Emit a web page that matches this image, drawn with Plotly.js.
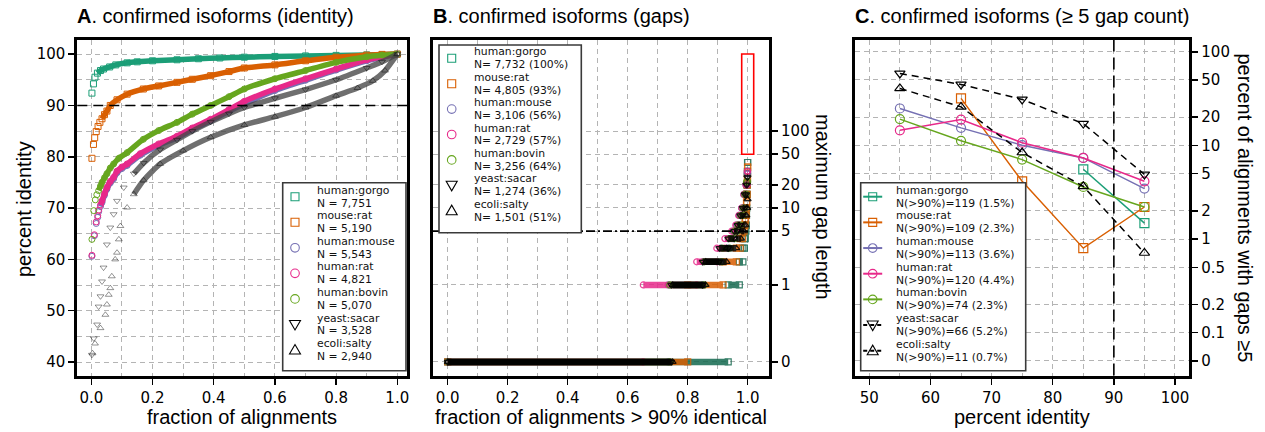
<!DOCTYPE html>
<html>
<head>
<meta charset="utf-8">
<script src="https://cdn.plot.ly/plotly-3.0.1.min.js"></script>
<style>html,body{margin:0;padding:0;background:#fff}#chart{width:1265px;height:432px}</style>
</head>
<body>
<div id="chart"></div>
<script>
// ================= DATA =================
const seriesNames = ['human:gorgo','mouse:rat','human:mouse','human:rat','human:bovin','yeast:sacar','ecoli:salty'];
const aCounts = ['N = 7,751','N = 5,190','N = 5,543','N = 4,821','N = 5,070','N = 3,528','N = 2,940'];
const bCounts = ['N= 7,732 (100%)','N= 4,805 (93%)','N= 3,106 (56%)','N= 2,729 (57%)','N= 3,256 (64%)','N= 1,274 (36%)','N= 1,501 (51%)'];
const cCounts = ['N(>90%)=119 (1.5%)','N(>90%)=109 (2.3%)','N(>90%)=113 (3.6%)','N(>90%)=120 (4.4%)','N(>90%)=74 (2.3%)','N(>90%)=66 (5.2%)','N(>90%)=11 (0.7%)'];

// Panel A: fraction of alignments vs percent identity
const aGorgoX = [0.002,0.007,0.012,0.02,0.03,0.04,0.06,0.08,0.117,0.15,0.2,0.28,0.35,0.42,0.5,0.6,0.7,0.8,0.9,0.95,1.0];
const aGorgoY = [92.4,94.2,95.5,96.3,96.8,97.1,97.5,97.9,98.3,98.5,98.7,98.9,99.1,99.25,99.4,99.55,99.65,99.75,99.85,99.9,100];
const aMouseRatX = [0.002,0.007,0.011,0.016,0.022,0.028,0.035,0.043,0.051,0.062,0.084,0.117,0.17,0.22,0.28,0.33,0.39,0.45,0.5,0.6,0.7,0.8,0.9,0.95,1.0];
const aMouseRatY = [79.7,82.4,83.7,84.9,85.9,86.7,87.4,88.2,88.9,90.0,91.1,92.2,93.2,93.8,94.5,95.1,95.8,96.6,97.3,97.9,98.7,99.4,99.8,99.95,100];
const aHumanMouseX = [0.002,0.01,0.016,0.021,0.024,0.03,0.035,0.043,0.051,0.062,0.073,0.084,0.1,0.117,0.16,0.22,0.28,0.33,0.39,0.45,0.5,0.6,0.7,0.8,0.9,0.95,1.0];
const aHumanMouseY = [60.6,64.6,67.0,68.2,69.3,70.3,71.1,72.5,73.7,74.9,75.7,76.9,77.7,78.3,80.3,82.2,83.7,85.3,87.0,88.9,90.3,92.9,94.9,96.9,98.7,99.4,100];
const aHumanRatX = [0.002,0.01,0.016,0.021,0.024,0.03,0.035,0.043,0.051,0.062,0.073,0.084,0.1,0.117,0.16,0.22,0.28,0.33,0.39,0.45,0.5,0.6,0.7,0.8,0.9,0.95,1.0];
const aHumanRatY = [60.8,64.8,67.3,68.5,69.6,70.6,71.4,72.8,74.0,75.2,76.0,77.2,78.0,78.6,80.6,82.5,84.0,85.6,87.3,89.2,90.8,93.2,95.2,97.1,98.9,99.5,100];
const aHumanBovinX = [0.002,0.008,0.013,0.018,0.024,0.03,0.035,0.043,0.051,0.062,0.073,0.09,0.117,0.17,0.22,0.28,0.33,0.39,0.45,0.5,0.6,0.7,0.8,0.9,0.95,1.0];
const aHumanBovinY = [63.9,69.5,71.6,72.6,73.4,74.3,75.0,75.9,76.7,77.8,78.6,79.7,80.8,83.4,85.1,86.7,88.3,90.0,91.7,93.2,95.2,96.8,98.4,99.5,99.8,100];
const aYeastX = [0.002,0.008,0.019,0.024,0.03,0.035,0.04,0.051,0.062,0.073,0.084,0.106,0.139,0.171,0.225,0.28,0.33,0.39,0.45,0.5,0.6,0.7,0.8,0.9,0.95,1.0];
const aYeastY = [41.4,44.6,47.3,50.8,52.8,55.7,58.4,62.9,66.2,68.8,71.4,74.0,76.7,78.8,81.4,83.3,85.0,86.8,88.4,89.6,91.4,93.1,95.0,97.3,98.5,100];
const aEcoliX = [0.004,0.012,0.03,0.046,0.051,0.057,0.062,0.067,0.078,0.084,0.09,0.095,0.117,0.139,0.171,0.225,0.3,0.39,0.5,0.6,0.7,0.8,0.87,0.92,0.96,1.0];
const aEcoliY = [41.7,43.6,46.6,49.2,51.2,53.1,54.4,56.7,60.0,61.3,63.9,66.5,70.1,72.7,75.4,78.6,81.2,83.8,86.2,87.8,89.6,91.9,93.4,94.8,96.8,100];

// Panel B: maximum gap length levels and cumulative fraction at which each level ends
const bGorgoGap = [0,1,2,3,4,5,6,8,10,15,20,30,39];
const bGorgoEnd = [0.935,0.972,0.984,0.989,0.992,0.994,0.995,0.996,0.997,0.998,0.999,0.9995,1.0];
const bMouseRatGap = [0,1,2,3,4,5,6,7,8,10,12,15,20,25,34];
const bMouseRatEnd = [0.80,0.918,0.962,0.975,0.983,0.988,0.991,0.993,0.995,0.996,0.997,0.998,0.999,0.9995,1.0];
const bHumanMouseGap = [0,1,2,3,4,5,6,8,10,15,20,28];
const bHumanMouseEnd = [0.735,0.85,0.91,0.935,0.952,0.963,0.972,0.98,0.987,0.994,0.998,1.0];
const bHumanRatGap = [0,1,2,3,4,5,6,8,10,15,20,30];
const bHumanRatEnd = [0.652,0.83,0.897,0.924,0.947,0.96,0.97,0.98,0.987,0.994,0.998,1.0];
const bHumanBovinGap = [0,1,2,3,4,5,6,8,10,15,22];
const bHumanBovinEnd = [0.74,0.855,0.915,0.94,0.956,0.967,0.976,0.984,0.99,0.996,1.0];
const bYeastGap = [0,1,2,3,4,5,6,8,10,15,20,25];
const bYeastEnd = [0.745,0.85,0.905,0.935,0.955,0.966,0.975,0.983,0.99,0.995,0.998,1.0];
const bEcoliGap = [0,1,2,3,4,5,6,8,10,13];
const bEcoliEnd = [0.75,0.86,0.93,0.962,0.978,0.988,0.993,0.996,0.999,1.0];

// Panel C: percent of alignments with >=5 gaps by identity bin
const cIdentity = [55,65,75,85,95];
const cGorgo = [null,null,null,5.56,1.48];
const cMouseRat = [null,31.8,4.14,0.80,2.2];
const cHumanMouse = [24.8,15.4,10.05,7.35,3.46];
const cHumanRat = [14.5,18.9,10.7,7.35,4.14];
const cHumanBovin = [19.1,11.2,7.06,3.6,2.2];
const cYeast = [58.7,44.8,31.0,17.1,4.9];
const cEcoli = [40.6,25.8,8.4,3.66,0.71];

// Tick labels
const bTickVals = [0.1,1,5,10,20,50,100];
const bTickText = ['0','1','5','10','20','50','100'];
const cTickVals = [0.05,0.1,0.2,0.5,1,2,5,10,20,50,100];
const cTickText = ['0','0.1','0.2','0.5','1','2','5','10','20','50','100'];

// ================= STYLE =================
const W = 1265, H = 432;
const px = x => x / W;
const py = y => 1 - y / H;
const COLORS = ['#1b9e77','#d95f02','#7570b3','#e7298a','#66a61e','#000000','#000000'];
const SYM = ['square','square','circle','circle','circle','down','up'];
const PSYM = {square:'square-open', circle:'circle-open', down:'triangle-down-open', up:'triangle-up-open'};
const GRID = '#b4b4b4', GDASH = '5px,4px';
const TXT = 'Liberation Sans, Arial, Helvetica, sans-serif';
const TICKFONT = {family:'DejaVu Sans, sans-serif', size:15, color:'#000'};
const LEGFONT = {family:'DejaVu Sans, sans-serif', size:10.8, color:'#111'};

const aXs = [aGorgoX,aMouseRatX,aHumanMouseX,aHumanRatX,aHumanBovinX,aYeastX,aEcoliX];
const aYs = [aGorgoY,aMouseRatY,aHumanMouseY,aHumanRatY,aHumanBovinY,aYeastY,aEcoliY];
const aBandFrom = [0.015,0.03,0.03,0.03,0.02,0.13,0.13];
const aBandColor = ['#1b9e77','#d95f02','#7570b3','#e7298a','#66a61e','rgba(70,70,70,0.78)','rgba(70,70,70,0.78)'];
const aMarkColor = ['#1b9e77','#d95f02','#7570b3','#e7298a','#66a61e','rgba(0,0,0,0.42)','rgba(0,0,0,0.42)'];

const bGaps = [bGorgoGap,bMouseRatGap,bHumanMouseGap,bHumanRatGap,bHumanBovinGap,bYeastGap,bEcoliGap];
const bEnds = [bGorgoEnd,bMouseRatEnd,bHumanMouseEnd,bHumanRatEnd,bHumanBovinEnd,bYeastEnd,bEcoliEnd];
const bColor = ['#14694f','#d95f02','#5e5a99','#e7298a','#4f8a16','#000000','#000000'];
const ZERO_B = 0.1; // position where "0" is drawn on the log axis of panel B

const cYs = [cGorgo,cMouseRat,cHumanMouse,cHumanRat,cHumanBovin,cYeast,cEcoli];

const traces = [];

// ---- Panel A ----
aXs.forEach((xs, i) => {
  const lx = [], ly = [];
  xs.forEach((x, k) => { if (x >= aBandFrom[i]) { lx.push(x); ly.push(aYs[i][k]); } });
  traces.push({type:'scatter', mode:'lines', x:lx, y:ly, xaxis:'x', yaxis:'y',
    line:{color:aBandColor[i], width:5.5, shape:'spline', smoothing:0.6}, hoverinfo:'skip'});
  traces.push({type:'scatter', mode:'markers', x:xs, y:aYs[i], xaxis:'x', yaxis:'y', name:seriesNames[i],
    marker:{symbol:PSYM[SYM[i]], size:6, color:aMarkColor[i], line:{width:1, color:aMarkColor[i]}}});
});

// ---- Panel B ----
bGaps.forEach((gaps, i) => {
  const x = [], y = [];
  let start = 0;
  gaps.forEach((g, k) => {
    const yv = g === 0 ? ZERO_B : g;
    x.push(start, bEnds[i][k], null);
    y.push(yv, yv, null);
    start = bEnds[i][k];
  });
  traces.push({type:'scatter', mode:'lines+markers', x, y, xaxis:'x2', yaxis:'y2', name:seriesNames[i],
    opacity:0.85, line:{color:bColor[i], width:6.5}, connectgaps:false,
    marker:{symbol:PSYM[SYM[i]], size:6, color:bColor[i], line:{width:1.2, color:bColor[i]}}});
});

// ---- Panel C ----
cYs.forEach((ys, i) => {
  const dashed = i >= 5;
  traces.push({type:'scatter', mode:'lines+markers', x:cIdentity, y:ys, xaxis:'x3', yaxis:'y3', name:seriesNames[i],
    line:{color:COLORS[i], width:1.5, dash: dashed ? '7px,5px' : 'solid'}, connectgaps:false,
    marker:{symbol:PSYM[SYM[i]], size:9, color:COLORS[i], line:{width:1.2, color:COLORS[i]}}});
});

// ================= LAYOUT =================
const yDom = [py(375.6), py(39.6)];
const axBase = {showline:true, mirror:true, linewidth:3, linecolor:'#000', ticks:'outside', ticklen:6,
  tickwidth:1.5, tickcolor:'#000', zeroline:false, showgrid:true, gridcolor:GRID, gridwidth:1, griddash:GDASH,
  tickfont:TICKFONT, fixedrange:true};
const minorGrid = d => ({dtick:d, showgrid:true, gridcolor:GRID, gridwidth:1, griddash:GDASH, ticks:''});

const layout = {
  width:W, height:H, margin:{l:0,r:0,t:0,b:0}, paper_bgcolor:'#fff', plot_bgcolor:'#fff', showlegend:false,
  font:{family:TXT, color:'#000'},
  xaxis:Object.assign({}, axBase, {domain:[px(77.3), px(407.3)], anchor:'y', range:[-0.0458, 1.0327],
    tick0:0, dtick:0.2, tickformat:'.1f', minor:minorGrid(0.1)}),
  yaxis:Object.assign({}, axBase, {domain:yDom, anchor:'x', range:[37.35, 102.83], tick0:0, dtick:10, minor:minorGrid(5)}),
  xaxis2:Object.assign({}, axBase, {domain:[px(433), px(769)], anchor:'y2', range:[-0.049, 1.071],
    tick0:0, dtick:0.2, tickformat:'.1f', minor:minorGrid(0.1)}),
  yaxis2:Object.assign({}, axBase, {domain:yDom, anchor:'x2', side:'right', type:'log', range:[-1.178, 3.188],
    tickmode:'array', tickvals:bTickVals, ticktext:bTickText}),
  xaxis3:Object.assign({}, axBase, {domain:[px(855), px(1189.3)], anchor:'y3', range:[47.66, 102.34],
    tick0:0, dtick:10, minor:minorGrid(5)}),
  yaxis3:Object.assign({}, axBase, {domain:yDom, anchor:'x3', side:'right', type:'log', range:[-1.458, 2.13],
    tickmode:'array', tickvals:cTickVals, ticktext:cTickText}),
  shapes:[], annotations:[]
};
const shapes = layout.shapes, ann = layout.annotations;

// reference lines
shapes.push({type:'line', xref:'x domain', yref:'y', x0:0, x1:1, y0:90, y1:90, layer:'above',
  line:{color:'#000', width:1.6, dash:'10px,6px'}});
shapes.push({type:'line', xref:'x2 domain', yref:'y2', x0:0, x1:1, y0:5, y1:5, layer:'above',
  line:{color:'#000', width:1.6, dash:'9px,3px,2px,3px'}});
shapes.push({type:'line', xref:'x3', yref:'y3 domain', x0:90, x1:90, y0:0, y1:1, layer:'above',
  line:{color:'#000', width:1.6, dash:'12px,6px'}});
shapes.push({type:'rect', xref:'x2', yref:'y2', x0:0.98, x1:1.02, y0:50, y1:1000, layer:'above',
  line:{color:'#ff0000', width:1.6}, fillcolor:'rgba(0,0,0,0)'});

// titles
const titles = [['A','. confirmed isoforms (identity)', 77.3], ['B','. confirmed isoforms (gaps)', 433], ['C','. confirmed isoforms (\u2265 5 gap count)', 855]];
titles.forEach(t => ann.push({xref:'paper', yref:'paper', x:px(t[2]-2), y:py(16), xanchor:'left', yanchor:'middle',
  text:'<b>'+t[0]+'</b>'+t[1], showarrow:false, font:{family:TXT, size:20, color:'#000'}}));

// axis titles
function axTitle(text, x, y, angle){
  ann.push({xref:'paper', yref:'paper', x:px(x), y:py(y), xanchor:'center', yanchor:'middle', text, textangle:angle,
    showarrow:false, font:{family:TXT, size:20, color:'#000'}});
}
axTitle('fraction of alignments', 242.3, 416.5, 0);
axTitle('percent identity', 24, 209, -90);
axTitle('fraction of alignments &gt; 90% identical', 601, 416.5, 0);
axTitle('maximum gap length', 823, 207, 90);
axTitle('percent identity', 1022, 417, 0);
axTitle('percent of alignments with gaps \u22655', 1245, 207.5, 90);

// legends
function legendSymbol(sym, cx, cy, color){
  const base = {xref:'paper', yref:'paper', xsizemode:'pixel', ysizemode:'pixel', xanchor:px(cx), yanchor:py(cy),
    line:{color, width:1.1}, fillcolor:'rgba(0,0,0,0)', layer:'above'};
  if (sym === 'square') shapes.push(Object.assign({}, base, {type:'rect', x0:-4, x1:4, y0:-4, y1:4}));
  else if (sym === 'circle') shapes.push(Object.assign({}, base, {type:'circle', x0:-4.3, x1:4.3, y0:-4.3, y1:4.3}));
  else if (sym === 'down') shapes.push(Object.assign({}, base, {type:'path', path:'M-5.5,4 L5.5,4 L0,-5.5 Z'}));
  else shapes.push(Object.assign({}, base, {type:'path', path:'M-5.5,-4 L5.5,-4 L0,5.5 Z'}));
}
function legend(box, mx, tx, y0, step, counts, withLine){
  shapes.push({type:'rect', xref:'paper', yref:'paper', x0:px(box[0]), x1:px(box[2]), y0:py(box[3]), y1:py(box[1]),
    line:{color:'#3a3a3a', width:1.6}, fillcolor:'#ffffff', layer:'above'});
  seriesNames.forEach((nm, i) => {
    const cy = y0 + i * step;
    if (withLine) shapes.push({type:'line', xref:'paper', yref:'paper', x0:px(mx-9.5), x1:px(mx+9.5), y0:py(cy), y1:py(cy),
      line:{color:COLORS[i], width:2, dash: i >= 5 ? '4px,3px' : 'solid'}, layer:'above'});
    legendSymbol(SYM[i], mx, cy, COLORS[i]);
    ann.push({xref:'paper', yref:'paper', x:px(tx), y:py(cy-6.4), xanchor:'left', yanchor:'middle', text:nm,
      showarrow:false, borderpad:0, font:LEGFONT});
    ann.push({xref:'paper', yref:'paper', x:px(tx), y:py(cy+6.4), xanchor:'left', yanchor:'middle', text:counts[i],
      showarrow:false, borderpad:0, font:LEGFONT});
  });
}
legend([282.7,182.7,406,370.7], 295, 316, 196.7, 25.55, aCounts, false);
legend([439,45,581.3,232.7], 451.7, 473, 58.3, 25.4, bCounts, false);
legend([860.7,182.7,1025.7,370.7], 872.7, 895, 196.7, 25.67, cCounts, true);

Plotly.newPlot('chart', traces, layout, {staticPlot:true, displayModeBar:false});
</script>
</body>
</html>
